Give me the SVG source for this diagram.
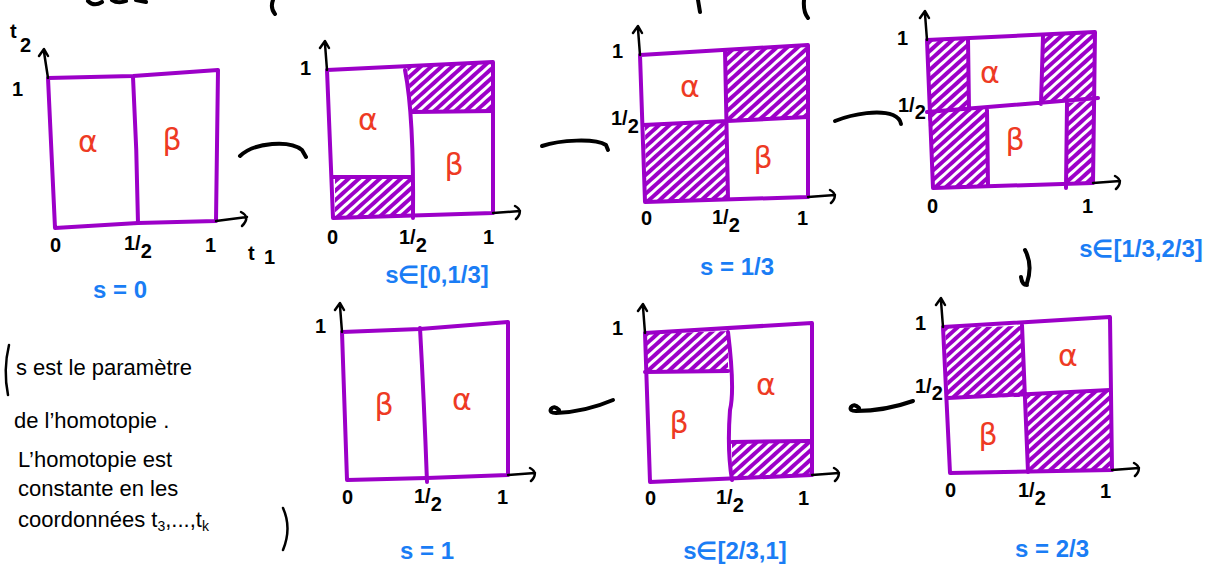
<svg xmlns="http://www.w3.org/2000/svg" width="1209" height="569" viewBox="0 0 1209 569">
<style>
.sq{fill:none;stroke:#9c00c8;stroke-width:4;stroke-linejoin:round;stroke-linecap:round}
.ln{fill:none;stroke:#9c00c8;stroke-width:4;stroke-linecap:round}
.ax{fill:none;stroke:#000;stroke-width:2.5;stroke-linecap:round;stroke-linejoin:round}
.ar{fill:none;stroke:#000;stroke-width:4;stroke-linecap:round;stroke-linejoin:round}
.h{fill:url(#hatch);stroke:none}
.lb{font-family:"Liberation Sans",sans-serif;font-size:20px;fill:#000;font-weight:bold}
.gr{font-family:"DejaVu Sans",sans-serif;font-size:30px;fill:#ee3a24;text-anchor:middle}
.bl{font-family:"Liberation Sans",sans-serif;font-size:24px;fill:#1a7df5;text-anchor:middle;font-weight:bold}
.nt{font-family:"Liberation Sans",sans-serif;font-size:22px;fill:#000}
</style>
<defs>
<pattern id="hatch" patternUnits="userSpaceOnUse" width="7" height="7" patternTransform="rotate(48)">
<line x1="2" y1="0" x2="2" y2="7" stroke="#9c00c8" stroke-width="4"/>
</pattern>
</defs>
<rect width="1209" height="569" fill="#fff"/>

<!-- cut-off strokes at top -->
<g class="ar" stroke-width="3">
<path d="M88,1 Q94,7 102,2"/><path d="M112,0 Q118,4 126,1"/><path d="M136,0 L146,2"/>
<path d="M273,0 Q270,8 275,14"/><path d="M698,0 L700,12"/><path d="M804,0 Q803,12 808,18"/>
</g>

<g id="panel1">
<path class="sq" d="M48,78 L133,76 L218,70 L216,221 L138,223 L55,228 Z"/>
<path class="ln" d="M133,77 Q137,150 138,223"/>
<path class="ax" d="M48,78 L44,52 M39,56 L44,49 L48,56 M216,221 L247,217 M241,212 Q251,217 242,226"/>
<text class="lb" x="10" y="38" font-size="30">t</text><text class="lb" x="20" y="52" font-size="15">2</text>
<text class="lb" x="248" y="260" font-size="28">t</text><text class="lb" x="264" y="264" font-size="12">1</text>
<text class="lb" x="12" y="96">1</text>
<text class="lb" x="50" y="252">0</text>
<text class="lb" x="124" y="250">1/<tspan dy="8">2</tspan></text>
<text class="lb" x="205" y="252">1</text>
<text class="gr" x="88" y="152">α</text>
<text class="gr" x="172" y="150">β</text>
<text class="bl" x="120" y="298" font-size="28">s = 0</text>
</g>

<g id="panel2">
<path class="h" d="M335,177 L413,177 L413,217 L335,218 Z"/>
<path class="h" d="M407,66 L492,63 L492,111 L412,112 Z"/>
<path class="sq" d="M327,70 L493,62 L493,213 L333,218 Z"/>
<path class="ln" d="M405,70 Q414,115 413,218 M333,177 L413,177 M413,112 L493,111"/>
<path class="ax" d="M327,70 L325,44 M320,48 L325,41 L329,48 M493,213 L520,211 M515,206 Q524,211 516,219"/>
<text class="lb" x="300" y="75">1</text>
<text class="lb" x="327" y="244">0</text>
<text class="lb" x="399" y="244">1/<tspan dy="8">2</tspan></text>
<text class="lb" x="483" y="244">1</text>
<text class="gr" x="368" y="130">α</text>
<text class="gr" x="454" y="175">β</text>
<text class="bl" x="437" y="283">s∈[0,1/3]</text>
</g>

<g id="panel3">
<path class="h" d="M726,50 L807,46 L807,117 L727,121 Z"/>
<path class="h" d="M645,126 L727,122 L728,199 L646,201 Z"/>
<path class="sq" d="M640,55 L808,45 L808,197 L645,202 Z"/>
<path class="ln" d="M725,50 L728,199 M643,125 L808,117"/>
<path class="ax" d="M640,55 L638,29 M633,33 L638,26 L642,33 M808,197 L835,195 M830,190 Q839,195 831,203"/>
<text class="lb" x="612" y="58">1</text>
<text class="lb" x="611" y="125">1/<tspan dy="8">2</tspan></text>
<text class="lb" x="641" y="225">0</text>
<text class="lb" x="712" y="224">1/<tspan dy="8">2</tspan></text>
<text class="lb" x="797" y="225">1</text>
<text class="gr" x="690" y="97">α</text>
<text class="gr" x="763" y="168">β</text>
<text class="bl" x="737" y="275" font-size="28">s = 1/3</text>
</g>

<g id="panel4">
<path class="h" d="M928,41 L968,39 L969,110 L928,112 Z"/>
<path class="h" d="M1043,36 L1094,33 L1095,99 L1041,103 Z"/>
<path class="h" d="M928,112 L987,108 L988,186 L933,187 Z"/>
<path class="h" d="M1067,103 L1094,100 L1093,183 L1066,185 Z"/>
<path class="sq" d="M927,40 L1095,32 L1093,183 L933,188 Z"/>
<path class="ln" d="M927,112 L1098,98 M968,39 L969,110 M1043,36 L1041,104 M987,110 L988,186 M1067,103 L1066,188"/>
<path class="ax" d="M927,40 L925,14 M920,18 L925,11 L929,18 M1093,183 L1120,181 M1115,176 Q1124,181 1116,189"/>
<text class="lb" x="897" y="45">1</text>
<text class="lb" x="898" y="112" font-size="17">1/<tspan dy="7">2</tspan></text>
<text class="lb" x="927" y="213">0</text>
<text class="lb" x="1082" y="213">1</text>
<text class="gr" x="990" y="83">α</text>
<text class="gr" x="1015" y="150">β</text>
<text class="bl" x="1141" y="257" font-size="22">s∈[1/3,2/3]</text>
</g>

<g id="panel5">
<path class="h" d="M945,328 L1022,326 L1024,397 L948,398 Z"/>
<path class="h" d="M1027,394 L1110,391 L1111,469 L1028,471 Z"/>
<path class="sq" d="M943,327 L1110,317 L1112,470 L950,473 Z"/>
<path class="ln" d="M1022,325 L1028,472 M948,398 L1110,390"/>
<path class="ax" d="M943,327 L941,301 M936,305 L941,298 L945,305 M1112,470 L1139,468 M1134,463 Q1143,468 1135,476"/>
<text class="lb" x="915" y="330">1</text>
<text class="lb" x="915" y="393" font-size="17">1/<tspan dy="7">2</tspan></text>
<text class="lb" x="945" y="497">0</text>
<text class="lb" x="1018" y="497">1/<tspan dy="8">2</tspan></text>
<text class="lb" x="1100" y="498">1</text>
<text class="gr" x="1068" y="366">α</text>
<text class="gr" x="988" y="445" font-size="26">β</text>
<text class="bl" x="1052" y="557" font-size="30">s = 2/3</text>
</g>

<g id="panel6">
<path class="h" d="M646,334 L728,331 L728,371 L646,372 Z"/>
<path class="h" d="M732,442 L811,442 L811,476 L732,478 Z"/>
<path class="sq" d="M645,333 L812,323 L812,475 L650,482 Z"/>
<path class="ln" d="M728,332 Q735,390 730,410 Q727,450 732,480 M645,372 L728,371 M732,442 L810,441"/>
<path class="ax" d="M645,333 L643,307 M638,311 L643,304 L647,311 M812,475 L839,473 M834,468 Q843,473 835,481"/>
<text class="lb" x="612" y="335">1</text>
<text class="lb" x="645" y="505">0</text>
<text class="lb" x="716" y="504">1/<tspan dy="8">2</tspan></text>
<text class="lb" x="798" y="505">1</text>
<text class="gr" x="766" y="395">α</text>
<text class="gr" x="679" y="433">β</text>
<text class="bl" x="735" y="559">s∈[2/3,1]</text>
</g>

<g id="panel7">
<path class="sq" d="M342,332 L420,329 L508,322 L508,475 L427,478 L347,480 Z"/>
<path class="ln" d="M420,328 Q424,400 427,482"/>
<path class="ax" d="M342,332 L340,306 M335,310 L340,303 L344,310 M508,475 L535,473 M530,468 Q539,473 531,481"/>
<text class="lb" x="315" y="333">1</text>
<text class="lb" x="342" y="504">0</text>
<text class="lb" x="414" y="503">1/<tspan dy="8">2</tspan></text>
<text class="lb" x="497" y="504">1</text>
<text class="gr" x="384" y="415">β</text>
<text class="gr" x="462" y="410">α</text>
<text class="bl" x="427" y="559" font-size="28">s = 1</text>
</g>

<g id="connectors">
<path class="ar" d="M240,156 C255,142 290,140 302,150 L306,157"/>
<path class="ar" d="M542,146 C560,140 595,138 606,145 L608,150"/>
<path class="ar" d="M835,121 C855,113 880,110 893,115 Q900,118 901,124"/>
<path class="ar" d="M1025,250 Q1033,265 1027,283 M1021,277 Q1022,285 1027,285"/>
<path class="ar" d="M913,401 Q885,411 856,411 Q849,411 851,407 Q854,403 859,408"/>
<path class="ar" d="M613,400 Q585,412 556,413 Q549,413 551,409 Q554,405 559,410"/>
</g>

<g id="note">
<path class="ax" d="M9,345 Q3,370 8,395"/>
<text class="nt" x="16" y="375">s est le paramètre</text>
<text class="nt" x="14" y="428">de l’homotopie .</text>
<text class="nt" x="18" y="467">L’homotopie est</text>
<text class="nt" x="18" y="496">constante en les</text>
<text class="nt" x="18" y="527">coordonnées t<tspan font-size="14" dy="4">3</tspan><tspan dy="-4">,...,t</tspan><tspan font-size="14" dy="4">k</tspan></text>
<path class="ax" d="M283,508 Q292,528 283,550"/>
</g>
</svg>
